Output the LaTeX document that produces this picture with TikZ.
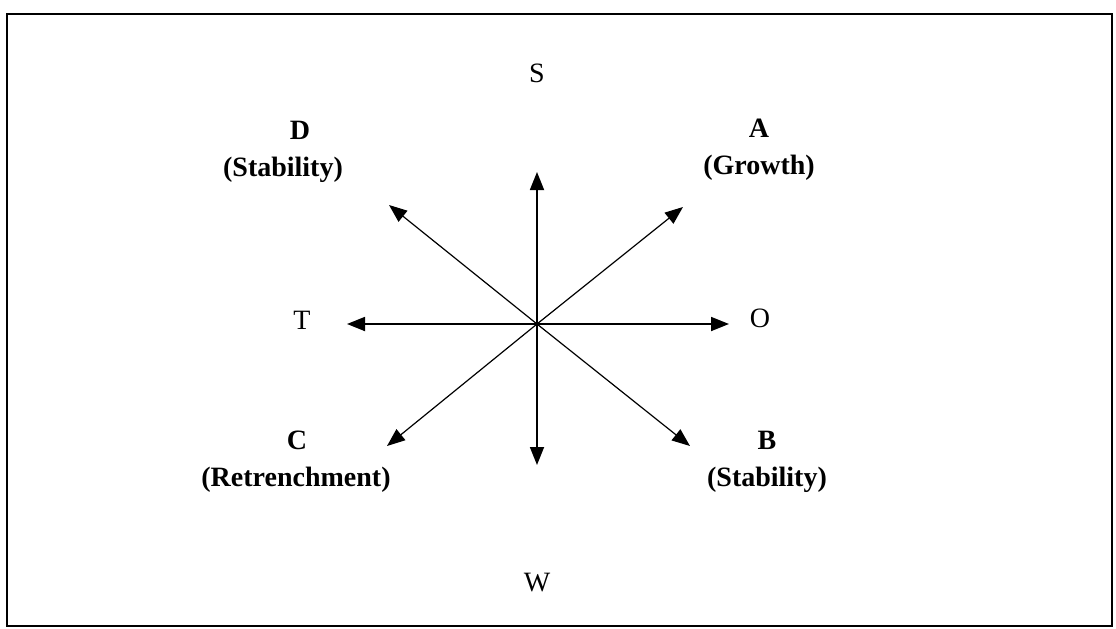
\documentclass[tikz,border=0pt]{standalone}
\usepackage{fontspec}
\setmainfont{Liberation Serif}
\usetikzlibrary{arrows.meta}

\begin{document}
\begin{tikzpicture}[
  x=0.5pt, y=-0.5pt,
  font=\fontsize{14}{17}\selectfont,
  axis/.style={-{Triangle[length=9pt,width=7pt]}, line width=0.9pt},
  diag/.style={-{Triangle[length=9pt,width=7pt]}, line width=0.6pt},
  dir/.style={inner sep=0pt},
  quad/.style={inner sep=0pt, font=\fontsize{14}{17}\selectfont\bfseries},
]
\useasboundingbox (0,0) rectangle (1116,628);

% ---------------------------------------------------------------- frame
\draw[line width=1pt] (7,14) rectangle (1112,626);

% ---------------------------------------------------------------- centre and tips
\coordinate (c) at (537,324);
\coordinate (up)    at (537,172);
\coordinate (down)  at (537,465);
\coordinate (right) at (729,324);
\coordinate (left)  at (347,324);
\coordinate (ne) at (683,207);
\coordinate (nw) at (389,205);
\coordinate (sw) at (387,446);
\coordinate (se) at (690,446);

% ---------------------------------------------------------------- SWOT labels
\node[dir] (s) at (537,73)  {S};
\node[dir] (w) at (537,583) {W};
\node[dir] (o) at (760,318) {O};
\node[dir] (t) at (302,320) {T};

% ---------------------------------------------------------------- quadrants
\node[quad] (a)  at (759,128) {A};
\node[quad] (ag) at (759,168) {(Growth)};
\node[quad] (d)  at (300,130) {D};
\node[quad] (dg) at (283,170) {(Stability)};
\node[quad] (cc) at (297,440) {C};
\node[quad] (cg) at (296,480) {(Retrenchment)};
\node[quad] (b)  at (767,440) {B};
\node[quad] (bg) at (767,480) {(Stability)};

% ---------------------------------------------------------------- arrows
\draw[axis] (c) -- (up);
\draw[axis] (c) -- (down);
\draw[axis] (c) -- (right);
\draw[axis] (c) -- (left);
\draw[diag] (c) -- (ne);
\draw[diag] (c) -- (nw);
\draw[diag] (c) -- (sw);
\draw[diag] (c) -- (se);

\end{tikzpicture}
\end{document}
